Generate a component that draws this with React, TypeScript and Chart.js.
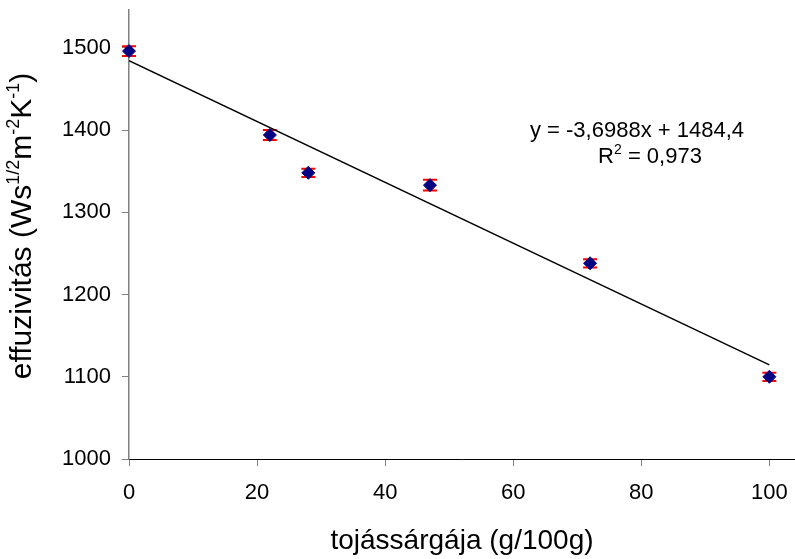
import React, { useEffect, useRef } from "react";
import { Chart, registerables } from "chart.js";

Chart.register(...registerables);

const X_VALUES = [0, 22, 28, 47, 72, 100];
const Y_VALUES = [1496, 1394, 1348, 1333, 1238, 1100];
const Y_ERRORS = [6, 6, 5, 6.5, 5, 5];
const TREND_SLOPE = -3.6988;
const TREND_INTERCEPT = 1484.4;
const TREND_X = [0, 100];
const X_TICKS = [0, 20, 40, 60, 80, 100];
const Y_TICKS = [1000, 1100, 1200, 1300, 1400, 1500];
const EQUATION_TEXT = "y = -3,6988x + 1484,4";
const R2_TEXT = " = 0,973";
const X_TITLE = "tojássárgája (g/100g)";

const FONT = "'Liberation Sans', Arial, sans-serif";

const errorBarPlugin = {
  id: "errorBars",
  beforeDatasetsDraw(chart: any) {
    const ctx = chart.ctx;
    const meta = chart.getDatasetMeta(0);
    const yScale = chart.scales.y;
    ctx.save();
    ctx.strokeStyle = "#FF0000";
    ctx.lineWidth = 2;
    meta.data.forEach((pt: any, i: number) => {
      const x = pt.x;
      const top = yScale.getPixelForValue(Y_VALUES[i] + Y_ERRORS[i]);
      const bot = yScale.getPixelForValue(Y_VALUES[i] - Y_ERRORS[i]);
      ctx.beginPath();
      ctx.moveTo(x, top);
      ctx.lineTo(x, bot);
      ctx.moveTo(x - 7, top);
      ctx.lineTo(x + 7, top);
      ctx.moveTo(x - 7, bot);
      ctx.lineTo(x + 7, bot);
      ctx.stroke();
    });
    ctx.restore();
  },
};

function drawSegments(ctx: any, segs: { t: string; sup?: boolean }[], x: number, y: number, size: number, supSize: number, align: "left" | "center") {
  let total = 0;
  const widths = segs.map((s) => {
    ctx.font = `${s.sup ? supSize : size}px ${FONT}`;
    const w = ctx.measureText(s.t).width;
    total += w;
    return w;
  });
  let cx = align === "center" ? x - total / 2 : x;
  segs.forEach((s, i) => {
    ctx.font = `${s.sup ? supSize : size}px ${FONT}`;
    ctx.fillText(s.t, cx, s.sup ? y - size * 0.4 : y);
    cx += widths[i];
  });
}

const textPlugin = {
  id: "texts",
  afterDraw(chart: any) {
    const ctx = chart.ctx;
    const area = chart.chartArea;
    ctx.save();
    ctx.fillStyle = "#000000";
    ctx.textBaseline = "alphabetic";
    ctx.textAlign = "left";
    // trendline equation
    drawSegments(ctx, [{ t: EQUATION_TEXT }], 637, 137, 22, 14, "center");
    drawSegments(ctx, [{ t: "R" }, { t: "2", sup: true }, { t: R2_TEXT }], 650, 163, 22, 14, "center");
    // x title
    drawSegments(ctx, [{ t: X_TITLE }], (area.left + area.right) / 2, 549, 28, 17, "center");
    // y title
    ctx.translate(31, 226);
    ctx.rotate(-Math.PI / 2);
    drawSegments(
      ctx,
      [
        { t: "effuzivitás (Ws" },
        { t: "1/2", sup: true },
        { t: "m" },
        { t: "-2", sup: true },
        { t: "K" },
        { t: "-1", sup: true },
        { t: ")" },
      ],
      0,
      0,
      30,
      18,
      "center"
    );
    ctx.restore();
  },
};

export default function App() {
  const ref = useRef<HTMLCanvasElement | null>(null);
  useEffect(() => {
    if (!ref.current) return;
    const chart = new Chart(ref.current, {
      type: "scatter",
      data: {
        datasets: [
          {
            label: "effuzivitás",
            data: X_VALUES.map((x, i) => ({ x, y: Y_VALUES[i] })),
            backgroundColor: "#000080",
            borderColor: "#000080",
            pointStyle: "rectRot",
            pointRadius: 6.5,
            borderWidth: 1,
            order: 0,
            clip: false,
          } as any,
          {
            label: "trend",
            data: TREND_X.map((x) => ({ x, y: TREND_SLOPE * x + TREND_INTERCEPT })),
            showLine: true,
            borderColor: "#000000",
            borderWidth: 1.5,
            pointRadius: 0,
            order: 1,
          } as any,
        ],
      },
      plugins: [errorBarPlugin, textPlugin],
      options: {
        animation: false,
        responsive: false,
        maintainAspectRatio: false,
        layout: { autoPadding: false, padding: { top: 10, right: 0, left: 0, bottom: 0 } },
        plugins: { legend: { display: false }, tooltip: { enabled: false } },
        scales: {
          x: {
            type: "linear",
            min: 0,
            max: 104,
            afterBuildTicks: (s: any) => {
              s.ticks = X_TICKS.map((v) => ({ value: v }));
            },
            afterFit: (s: any) => {
              s.height = 100;
              s.paddingLeft = 0;
              s.paddingRight = 0;
            },
            ticks: {
              callback: (v: any) => String(v),
              font: { family: FONT, size: 22 },
              color: "#000000",
              padding: 14,
              maxRotation: 0,
            },
            grid: { drawOnChartArea: false, tickLength: 7, color: "#808080", lineWidth: 1 },
            border: { display: true, color: "#000000", width: 1 },
          },
          y: {
            type: "linear",
            min: 1000,
            max: 1546,
            afterBuildTicks: (s: any) => {
              s.ticks = Y_TICKS.map((v) => ({ value: v }));
            },
            afterFit: (s: any) => {
              s.width = 129;
              s.paddingTop = 0;
              s.paddingBottom = 0;
            },
            ticks: {
              callback: (v: any) => String(v),
              font: { family: FONT, size: 22 },
              color: "#000000",
              padding: 11,
            },
            grid: { drawOnChartArea: false, tickLength: 7, color: "#808080", lineWidth: 1 },
            border: { display: true, color: "#808080", width: 1.5 },
          },
        },
      },
    });
    return () => chart.destroy();
  }, []);
  return (
    <div style={{ position: "absolute", left: 0, top: 0, width: 795, height: 559, background: "#ffffff" }}>
      <canvas ref={ref} width={795} height={559} style={{ width: 795, height: 559 }} />
    </div>
  );
}
